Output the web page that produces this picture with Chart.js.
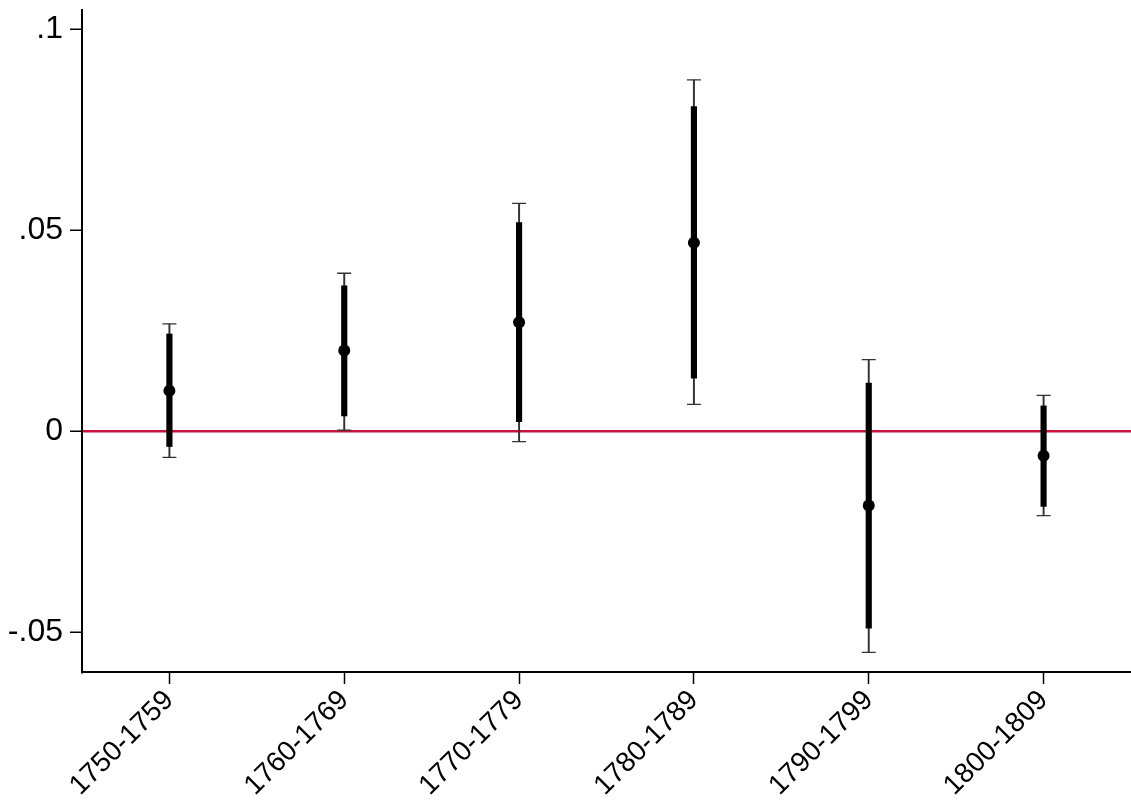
<!DOCTYPE html>
<html>
<head>
<meta charset="utf-8">
<script src="https://cdn.jsdelivr.net/npm/chart.js@4"></script>
<style>
  html, body { margin: 0; padding: 0; background: #fff; }
  canvas { display: block; }
</style>
</head>
<body>
<canvas id="coefChart" width="1131" height="800"></canvas>
<script>
// decade coefficients with 90% (thick) and 95% (thin) intervals
const periods = ['1750-1759', '1760-1769', '1770-1779', '1780-1789', '1790-1799', '1800-1809'];
const estimates = [0.0100, 0.0200, 0.0270, 0.0468, -0.0186, -0.0062];
const ci90Low = [-0.0039, 0.0037, 0.0023, 0.0131, -0.0491, -0.0188];
const ci90High = [0.0241, 0.0361, 0.0518, 0.0807, 0.0119, 0.0062];
const ci95Low = [-0.0066, 0.0002, -0.0027, 0.0066, -0.0551, -0.0211];
const ci95High = [0.0266, 0.0392, 0.0566, 0.0873, 0.0177, 0.0088];

const yTickValues = [-0.05, 0, 0.05, 0.1];
const yTickLabels = ['-.05', '0', '.05', '.1'];

const fontFamily = "'Liberation Sans', Arial, Helvetica, sans-serif";

const ctx = document.getElementById('coefChart').getContext('2d');

window.coefChart = new Chart(ctx, {
    type: 'bar',
    data: {
        labels: periods,
        datasets: [
            {
                // point estimate
                type: 'line',
                data: estimates,
                showLine: false,
                pointStyle: 'circle',
                pointRadius: 6,
                pointBackgroundColor: '#000',
                pointBorderWidth: 0,
                order: 0
            },
            {
                // 90% interval
                data: periods.map((p, i) => [ci90Low[i], ci90High[i]]),
                backgroundColor: '#000',
                barThickness: 5.5,
                grouped: false,
                order: 1
            },
            {
                // 95% interval
                data: periods.map((p, i) => [ci95Low[i], ci95High[i]]),
                backgroundColor: '#333',
                barThickness: 1.3,
                grouped: false,
                order: 2
            },
            {
                // caps on top of the 95% interval
                type: 'line',
                data: ci95High,
                showLine: false,
                pointStyle: 'line',
                pointRadius: 7,
                pointBorderColor: '#333',
                pointBorderWidth: 1.3,
                order: 3
            },
            {
                // caps at the bottom
                type: 'line',
                data: ci95Low,
                showLine: false,
                pointStyle: 'line',
                pointRadius: 7,
                pointBorderColor: '#333',
                pointBorderWidth: 1.3,
                order: 3
            }
        ]
    },
    options: {
        responsive: false,
        devicePixelRatio: 1,
        animation: false,
        events: [],
        // plot runs a hair past the right edge
        layout: { padding: { left: 0, top: 0, bottom: 0, right: -2 }, autoPadding: false },
        plugins: {
            legend: { display: false },
            tooltip: { enabled: false }
        },
        scales: {
            x: {
                offset: true,
                border: { display: true, color: '#000', width: 2 },
                grid: {
                    offset: false,
                    drawOnChartArea: false,
                    tickLength: 12,
                    tickColor: '#000',
                    tickWidth: 1.5
                },
                ticks: {
                    color: '#000',
                    font: { family: fontFamily, size: 28 },
                    minRotation: 45,
                    maxRotation: 45,
                    padding: 0
                },
                afterFit: s => {
                    s.height = 128;
                    s.paddingLeft = 0;
                    s.paddingRight = 0;
                    s.paddingTop = 0;
                    s.paddingBottom = 0;
                }
            },
            y: {
                min: -0.06,
                max: 0.1047,
                border: { display: true, color: '#000', width: 2 },
                grid: {
                    // only the zero line is drawn across the plot
                    color: c => (c.tick && c.tick.value === 0 ? '#c8143c' : 'rgba(0,0,0,0)'),
                    lineWidth: 2.5,
                    tickLength: 12,
                    tickColor: '#000',
                    tickWidth: 1.5
                },
                afterBuildTicks: s => {
                    s.ticks = yTickValues.map(v => ({ value: v }));
                },
                ticks: {
                    color: '#000',
                    font: { family: fontFamily, size: 32 },
                    padding: 7,
                    callback: v => yTickLabels[yTickValues.indexOf(v)]
                },
                afterFit: s => {
                    s.width = 82;
                    s.paddingTop = 10;
                    s.paddingBottom = 0;
                    s.paddingLeft = 0;
                    s.paddingRight = 0;
                }
            }
        }
    }
});
</script>
</body>
</html>
